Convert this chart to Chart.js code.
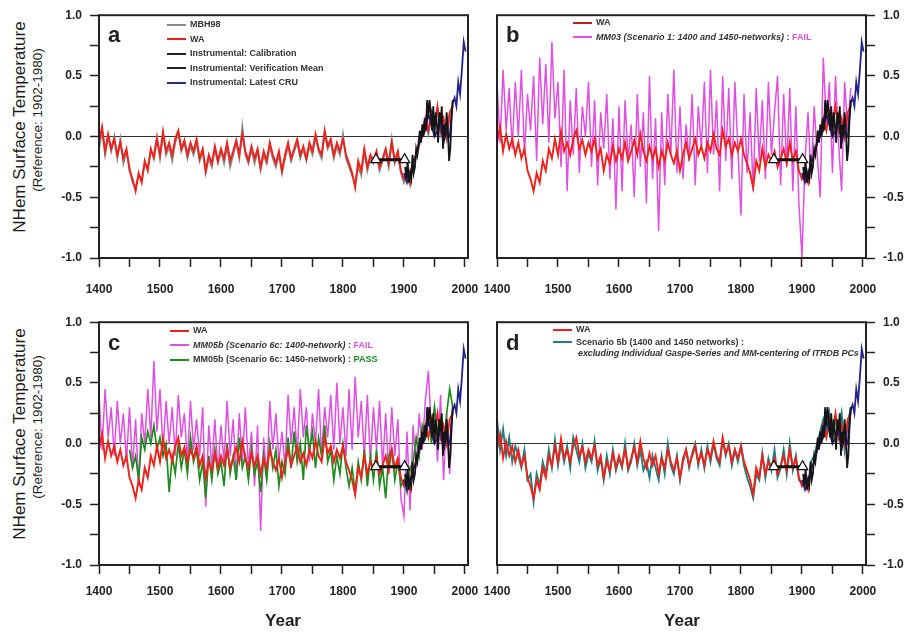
<!DOCTYPE html>
<html>
<head>
<meta charset="utf-8">
<script src="https://cdn.jsdelivr.net/npm/chart.js@4.4.1/dist/chart.umd.min.js"></script>
<style>
  body { margin: 0; background: #fff; overflow: hidden; }
  #wrap { position: relative; width: 912px; height: 633px; font-family: "Liberation Sans", Arial, sans-serif; color: #222; }
  canvas { position: absolute; }
  .ytitle { position: absolute; white-space: nowrap; transform: translate(-50%, -50%) rotate(-90deg); color: #1c1c1c; }
  .big { font-size: 17px; }
  .small { font-size: 13.5px; }
  .xtitle { position: absolute; font-size: 17px; font-weight: bold; transform: translate(-50%, -50%); }
  .letter { position: absolute; font-size: 22px; font-weight: bold; }
  .legend { position: absolute; font-family: "Liberation Sans Narrow", "Liberation Sans", sans-serif; font-size: 9px; font-weight: bold; color: #333; line-height: 14.5px; }
  .legend .row { white-space: nowrap; }
  .legend .sw { display: inline-block; width: 19px; height: 0; border-top: 2px solid; vertical-align: middle; margin-right: 4px; }
  .legend i { font-style: italic; }
</style>
</head>
<body>
<div id="wrap">
  <canvas id="pa" width="469" height="303" style="left:49px;top:0px"></canvas>
  <canvas id="pb" width="469" height="303" style="left:447px;top:0px"></canvas>
  <canvas id="pc" width="469" height="313" style="left:49px;top:307px"></canvas>
  <canvas id="pd" width="469" height="313" style="left:447px;top:307px"></canvas>

  <div class="ytitle big" style="left:20px;top:127px">NHem Surface Temperature</div>
  <div class="ytitle small" style="left:37px;top:120px">(Reference: 1902-1980)</div>
  <div class="ytitle big" style="left:20px;top:434px">NHem Surface Temperature</div>
  <div class="ytitle small" style="left:37px;top:427px">(Reference: 1902-1980)</div>
  <div class="xtitle" style="left:283px;top:621px">Year</div>
  <div class="xtitle" style="left:682px;top:621px">Year</div>

  <div class="letter" style="left:108px;top:22px">a</div>
  <div class="letter" style="left:506px;top:22px">b</div>
  <div class="letter" style="left:108px;top:330px">c</div>
  <div class="letter" style="left:506px;top:330px">d</div>

  <div class="legend" style="left:167px;top:17px">
    <div class="row"><span class="sw" style="border-color:#8a8a8a"></span>MBH98</div>
    <div class="row"><span class="sw" style="border-color:#f0201a"></span>WA</div>
    <div class="row"><span class="sw" style="border-color:#222"></span>Instrumental: Calibration</div>
    <div class="row"><span class="sw" style="border-color:#222"></span>Instrumental: Verification Mean</div>
    <div class="row"><span class="sw" style="border-color:#2a2a8c"></span>Instrumental: Latest CRU</div>
  </div>
  <div class="legend" style="left:573px;top:15px">
    <div class="row"><span class="sw" style="border-color:#c0201a"></span>WA</div>
    <div class="row"><span class="sw" style="border-color:#e050e0"></span><i>MM03 (Scenario 1: 1400 and 1450-networks) </i> : <span style="color:#e050e0">FAIL</span></div>
  </div>
  <div class="legend" style="left:170px;top:323px">
    <div class="row"><span class="sw" style="border-color:#f0201a"></span>WA</div>
    <div class="row"><span class="sw" style="border-color:#e050e0"></span><i>MM05b (Scenario 6c: 1400-network)</i> : <span style="color:#e050e0">FAIL</span></div>
    <div class="row"><span class="sw" style="border-color:#1f8a1f"></span>MM05b (Scenario 6c: 1450-network) : <span style="color:#1f8a1f">PASS</span></div>
  </div>
  <div class="legend" style="left:553px;top:322px">
    <div class="row"><span class="sw" style="border-color:#f0201a"></span>WA</div>
    <div class="row" style="line-height:11px"><span class="sw" style="border-color:#1a8080"></span>Scenario 5b (1400 and 1450 networks) :</div>
    <div class="row" style="line-height:11px;padding-left:25px;letter-spacing:-0.1px"><i>excluding Individual Gaspe-Series and MM-centering of ITRDB PCs</i></div>
  </div>
</div>

<script>
// years for the proxy reconstructions (5-year sampling)
const proxyYears = [];
for (let y = 1400; y <= 1980; y += 5) proxyYears.push(y);
const green_years = proxyYears.filter(y => y >= 1450);

const waValues = [
  -0.05, 0.08, -0.12, 0.02, -0.10, -0.02, -0.15, -0.05, -0.18, -0.10,
  -0.28, -0.35, -0.45, -0.30, -0.38, -0.20, -0.28, -0.10, -0.18, -0.02,
  -0.15, 0.04, -0.12, -0.05, -0.15, -0.02, 0.05, -0.10, -0.03, -0.15,
  -0.05, -0.12, -0.02, -0.18, -0.10, -0.28, -0.15, -0.22, -0.08, -0.20,
  -0.10, -0.18, -0.05, -0.20, -0.12, -0.03, -0.15, 0.02, -0.12, -0.20,
  -0.08, -0.18, -0.10, -0.25, -0.12, -0.20, -0.05, -0.15, -0.22, -0.12,
  -0.28, -0.15, -0.05, -0.18, -0.10, -0.02, -0.15, -0.08, -0.18, -0.05,
  -0.12, 0.02, -0.10, -0.15, 0.05, -0.08, -0.02, -0.15, -0.05, -0.12,
  -0.02, -0.15, -0.22, -0.30, -0.42, -0.20, -0.28, -0.10, -0.25, -0.15,
  -0.20, -0.12, -0.25, -0.18, -0.10, -0.22, -0.05, -0.20, -0.12, -0.28,
  -0.35, -0.30, -0.38, -0.20, -0.15, -0.05, 0.05, 0.15, 0.05, 0.20,
  0.10, 0.25, 0.05, 0.15, 0.00, 0.20, 0.25
];

const mbh98Values = [
  -0.10, 0.05, -0.15, 0.00, -0.12, 0.00, -0.18, -0.02, -0.22, -0.12,
  -0.25, -0.38, -0.42, -0.32, -0.35, -0.22, -0.25, -0.12, -0.15, 0.00,
  -0.18, 0.02, -0.15, -0.08, -0.20, -0.05, 0.03, -0.12, -0.05, -0.18,
  -0.08, -0.15, -0.05, -0.20, -0.12, -0.30, -0.18, -0.25, -0.10, -0.22,
  -0.12, -0.22, -0.08, -0.25, -0.15, -0.05, -0.18, 0.08, -0.15, -0.22,
  -0.10, -0.22, -0.12, -0.28, -0.15, -0.22, -0.08, -0.18, -0.25, -0.15,
  -0.30, -0.18, -0.08, -0.20, -0.12, -0.05, -0.18, -0.10, -0.20, -0.08,
  -0.15, 0.00, -0.12, -0.18, 0.03, -0.10, -0.05, -0.18, -0.08, -0.15,
  0.02, -0.18, -0.25, -0.32, -0.38, -0.25, -0.32, -0.12, -0.28, -0.18,
  -0.22, -0.15, -0.28, -0.20, -0.12, -0.25, -0.02, -0.22, -0.15, -0.30,
  -0.38, -0.32, -0.40, -0.22, -0.18, -0.08, 0.02, 0.12, 0.02, 0.18,
  0.08, 0.22, 0.02, 0.12, -0.02, 0.18, 0.22
];

const mm03Values = [
  0.45, -0.05, 0.55, 0.05, 0.40, -0.10, 0.45, 0.00, 0.55, -0.15,
  0.35, 0.05, 0.50, -0.20, 0.65, 0.10, 0.60, -0.05, 0.78, 0.15,
  0.45, -0.25, 0.55, -0.45, 0.30, -0.15, 0.40, -0.30, 0.25, 0.00,
  0.45, -0.25, 0.30, -0.40, 0.20, -0.10, 0.35, -0.35, 0.15, -0.60,
  0.25, -0.45, 0.30, -0.20, 0.10, -0.50, 0.35, -0.25, 0.20, -0.55,
  0.50, -0.35, 0.15, -0.78, 0.20, -0.40, 0.35, -0.15, 0.55, -0.30,
  0.25, -0.35, 0.10, -0.20, 0.35, -0.40, 0.25, -0.10, 0.45, -0.30,
  0.55, -0.15, 0.30, -0.45, 0.50, -0.20, 0.40, -0.35, 0.45, -0.10,
  -0.65, 0.35, -0.30, 0.20, -0.45, 0.40, -0.20, 0.30, -0.35, 0.45,
  -0.15, 0.20, 0.50, -0.40, 0.35, -0.25, 0.40, -0.45, 0.25, -0.55,
  -1.00, -0.20, 0.20, -0.35, 0.25, -0.15, -0.50, 0.65, 0.10, 0.45,
  -0.30, 0.50, -0.05, -0.45, 0.45, 0.05, 0.40
];

const mm05b1400Values = [
  0.40, -0.05, 0.45, 0.05, 0.30, -0.10, 0.35, 0.00, 0.25, -0.15,
  0.30, -0.20, 0.20, -0.35, 0.25, 0.00, 0.45, 0.05, 0.68, 0.10,
  0.45, -0.05, 0.35, 0.00, 0.30, -0.10, 0.40, 0.05, 0.25, -0.15,
  0.35, -0.05, 0.20, -0.10, 0.30, -0.52, 0.15, -0.20, 0.20, -0.25,
  0.15, -0.15, 0.35, -0.10, 0.20, -0.30, 0.25, -0.15, 0.30, -0.20,
  0.10, -0.35, 0.15, -0.72, 0.05, -0.30, 0.35, -0.05, 0.25, -0.15,
  0.10, -0.20, 0.40, 0.00, 0.30, -0.10, 0.45, 0.05, 0.30, -0.15,
  0.25, 0.00, 0.45, -0.10, 0.30, 0.05, 0.40, -0.05, 0.50, 0.00,
  0.30, -0.10, 0.45, -0.05, 0.55, 0.05, 0.35, -0.10, 0.40, -0.15,
  0.30, -0.05, 0.35, -0.20, 0.25, -0.25, 0.30, -0.10, 0.20, -0.45,
  -0.60, 0.10, -0.55, 0.15, -0.20, 0.25, -0.05, 0.35, 0.60, 0.10,
  0.30, -0.15, 0.40, -0.30, 0.25, -0.25, 0.30
];

const mm05b1450Values = [
  -0.05, -0.20, -0.10, -0.30, 0.05, -0.05, 0.10, 0.00, 0.15, -0.05,
  0.05, -0.10, 0.00, -0.40, -0.10, -0.25, 0.00, -0.20, -0.05, -0.25,
  0.05, -0.15, -0.05, -0.30, -0.15, -0.45, -0.10, -0.30, -0.05, -0.25,
  -0.15, -0.35, 0.00, -0.25, -0.10, -0.30, 0.05, -0.20, -0.10, -0.30,
  -0.05, -0.25, -0.15, -0.40, -0.10, -0.30, 0.00, -0.20, -0.05, -0.35,
  -0.15, -0.25, 0.05, -0.20, 0.10, -0.15, 0.00, -0.30, 0.15, -0.05,
  0.10, -0.20, 0.05, -0.10, 0.15, -0.15, -0.05, -0.30, -0.10, -0.25,
  0.00, -0.20, -0.35, -0.20, -0.40, -0.15, -0.30, -0.05, -0.35, -0.10,
  -0.30, -0.05, -0.35, -0.20, -0.45, -0.10, -0.05, -0.30, -0.15, -0.35,
  -0.30, -0.40, -0.20, -0.15, 0.05, -0.10, 0.15, 0.05, 0.25, 0.00,
  0.30, 0.10, 0.20, -0.05, 0.25, 0.45, 0.30
];

const scen5bValues = [
  0.20, -0.05, 0.12, -0.10, 0.05, -0.15, -0.02, -0.10, -0.20, -0.05,
  -0.30, -0.25, -0.48, -0.25, -0.35, -0.15, -0.25, -0.05, -0.20, 0.03,
  -0.18, 0.00, -0.15, -0.02, -0.20, 0.05, -0.05, -0.15, 0.00, -0.20,
  -0.08, -0.15, 0.02, -0.22, -0.12, -0.30, -0.10, -0.25, -0.05, -0.22,
  -0.12, -0.20, 0.00, -0.22, -0.15, 0.00, -0.18, -0.05, -0.22, -0.15,
  -0.28, -0.10, -0.20, -0.30, -0.10, -0.25, 0.00, -0.18, -0.25, -0.10,
  -0.30, -0.12, -0.05, -0.20, -0.08, 0.00, -0.18, -0.05, -0.20, -0.02,
  -0.15, 0.00, -0.12, -0.18, 0.03, -0.10, 0.00, -0.18, -0.05, -0.15,
  -0.02, -0.18, -0.28, -0.35, -0.45, -0.25, -0.30, -0.08, -0.28, -0.12,
  -0.22, -0.05, -0.28, -0.20, -0.05, -0.25, 0.00, -0.22, -0.10, -0.30,
  -0.32, -0.28, -0.35, -0.15, -0.10, 0.00, 0.10, 0.20, 0.10, 0.25,
  0.05, 0.20, 0.10, 0.25, -0.05, 0.15, 0.30
];

// instrumental series
const calYears = [
  1902, 1904, 1906, 1908, 1910, 1912, 1914, 1916, 1918, 1920,
  1922, 1924, 1926, 1928, 1930, 1932, 1934, 1936, 1938, 1940,
  1942, 1944, 1946, 1948, 1950, 1952, 1954, 1956, 1958, 1960,
  1962, 1964, 1966, 1968, 1970, 1972, 1974, 1976, 1978, 1980
];
const calValues = [
  -0.25, -0.35, -0.20, -0.38, -0.30, -0.35, -0.15, -0.30, -0.25, -0.10,
  -0.15, -0.05, 0.05, -0.05, 0.10, 0.00, 0.15, 0.05, 0.30, 0.15,
  0.30, 0.20, 0.05, 0.25, 0.00, 0.20, 0.10, -0.05, 0.20, 0.10,
  0.25, -0.10, 0.10, 0.00, 0.20, 0.05, -0.20, -0.10, 0.15, 0.30
];

const cruYears = [
  1900, 1905, 1910, 1915, 1920, 1925, 1930, 1935, 1940, 1945,
  1950, 1955, 1960, 1965, 1970, 1975, 1980, 1983, 1986, 1989,
  1992, 1995, 1998, 2001
];
const cruValues = [
  -0.30, -0.38, -0.30, -0.22, -0.15, -0.05, 0.00, 0.05, 0.18, 0.10,
  0.00, 0.05, 0.10, -0.05, 0.05, 0.00, 0.28, 0.32, 0.25, 0.45,
  0.35, 0.55, 0.78, 0.70
];

const verYears = [1854, 1901];
const verValues = [-0.19, -0.19];

const xTicks = [1400, 1500, 1600, 1700, 1800, 1900, 2000];
const xMinorTicks = [1450, 1550, 1650, 1750, 1850, 1950];
const yTicks = [-1.0, -0.5, 0.0, 0.5, 1.0];

function pts(xs, ys) {
  return ys.map((v, i) => ({ x: xs[i], y: v }));
}

function line(label, xs, ys, color, width) {
  return {
    label,
    data: pts(xs, ys),
    borderColor: color,
    borderWidth: width || 1.5,
    pointRadius: 0,
    tension: 0,
    fill: false,
  };
}

function instrumental() {
  return [
    {
      label: "Instrumental: Verification Mean",
      data: pts(verYears, verValues),
      borderColor: "#111",
      borderWidth: 3,
      pointStyle: "triangle",
      pointRadius: 6,
      pointBackgroundColor: "#fff",
      pointBorderColor: "#111",
      pointBorderWidth: 1.2,
    },
    line("Instrumental: Calibration", calYears, calValues, "#151515", 1.8),
    line("Instrumental: Latest CRU", cruYears, cruValues, "#23238a", 1.8),
  ];
}

const framePlugin = {
  id: "frame",
  afterDraw(chart) {
    const { ctx, chartArea } = chart;
    ctx.save();
    ctx.strokeStyle = "#222";
    ctx.lineWidth = 2;
    ctx.strokeRect(chartArea.left, chartArea.top, chartArea.right - chartArea.left, chartArea.bottom - chartArea.top);
    ctx.restore();
  },
};

function makePanel(id, datasets, side, xBottomHeight, labelPad) {
  const tickFont = { family: "'Liberation Sans', Arial, sans-serif", size: 12, weight: "bold" };
  return new Chart(document.getElementById(id), {
    type: "line",
    data: { datasets },
    options: {
      responsive: false,
      animation: false,
      events: [],
      layout: {
        padding: side === "left" ? { top: 13, right: 50, left: 0, bottom: 0 } : { top: 13, left: 50, right: 0, bottom: 0 },
      },
      plugins: { legend: { display: false }, tooltip: { enabled: false } },
      scales: {
        x: {
          type: "linear",
          min: 1400,
          max: 2005,
          afterBuildTicks: s => {
            s.ticks = [...xTicks, ...xMinorTicks].sort((p, q) => p - q).map(v => ({ value: v }));
          },
          afterFit: s => { s.height = xBottomHeight; },
          border: { display: false },
          grid: { drawOnChartArea: false, tickLength: 9, tickColor: "#222", tickWidth: 1.5 },
          ticks: {
            padding: labelPad,
            maxRotation: 0,
            autoSkip: false,
            color: "#222",
            font: tickFont,
            callback: v => (xTicks.includes(v) ? String(v) : ""),
          },
        },
        y: {
          position: side,
          min: -1,
          max: 1,
          afterFit: s => { s.width = 50; },
          border: { display: false },
          grid: {
            color: c => (c.tick && Math.abs(c.tick.value) < 1e-9 ? "#333" : "rgba(0,0,0,0)"),
            lineWidth: 1,
            tickLength: 9,
            tickColor: "#222",
            tickWidth: 1.5,
          },
          ticks: {
            stepSize: 0.25,
            padding: 8,
            autoSkip: false,
            color: "#222",
            font: tickFont,
            callback: v => {
              const hit = yTicks.find(t => Math.abs(t - v) < 1e-9);
              return hit === undefined ? "" : hit.toFixed(1);
            },
          },
        },
      },
    },
    plugins: [framePlugin],
  });
}

makePanel("pa", [
  ...instrumental(),
  line("WA", proxyYears, waValues, "#f0201a", 1.9),
  line("MBH98", proxyYears, mbh98Values, "#8a8a8a", 1.9),
], "left", 45, 15);

makePanel("pb", [
  ...instrumental(),
  line("WA", proxyYears, waValues, "#f0201a", 1.9),
  line("MM03 (Scenario 1: 1400 and 1450-networks)", proxyYears, mm03Values, "#e050e0", 1.5),
], "right", 45, 15);

makePanel("pc", [
  ...instrumental(),
  line("WA", proxyYears, waValues, "#f0201a", 1.9),
  line("MM05b (Scenario 6c: 1450-network)", green_years, mm05b1450Values, "#1f8a1f", 1.7),
  line("MM05b (Scenario 6c: 1400-network)", proxyYears, mm05b1400Values, "#e050e0", 1.5),
], "left", 55, 10);

makePanel("pd", [
  ...instrumental(),
  line("WA", proxyYears, waValues, "#f0201a", 1.9),
  line("Scenario 5b (1400 and 1450 networks)", proxyYears, scen5bValues, "#1a8080", 1.9),
], "right", 55, 10);
</script>
</body>
</html>
